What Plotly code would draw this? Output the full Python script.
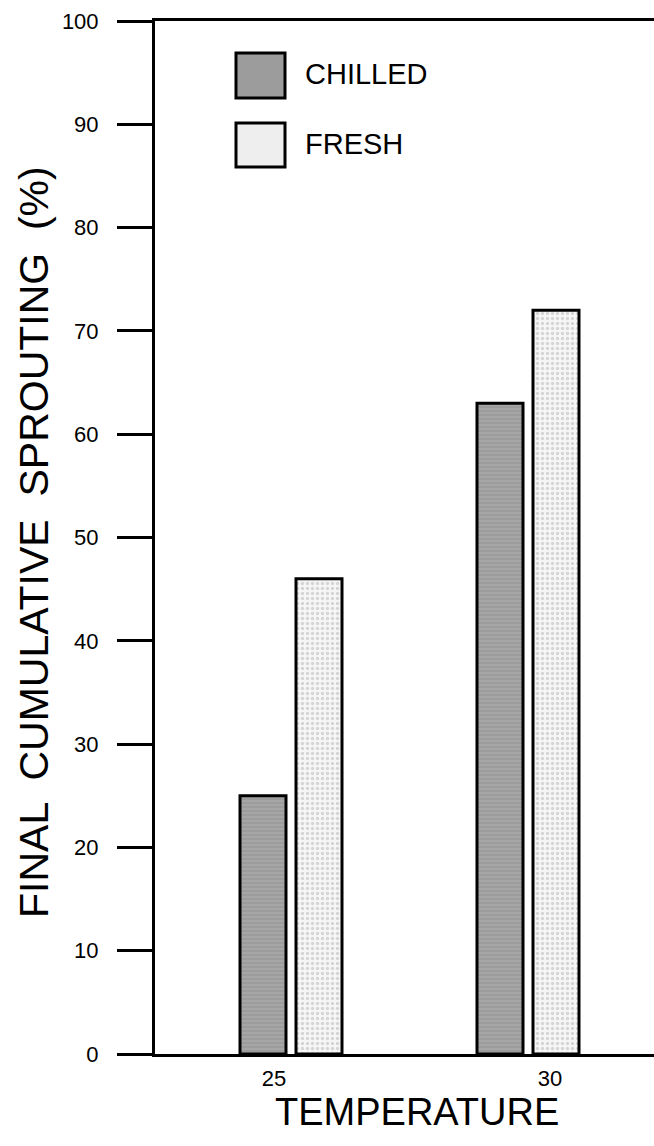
import plotly.graph_objects as go

# Final cumulative sprouting (%) by temperature and tuber treatment
temperatures = ["25", "30"]
series_names = ["CHILLED", "FRESH"]
chilled = [25, 63]
fresh = [46, 72]

FONT = "Liberation Sans, Arial, Helvetica, sans-serif"

W, H = 654, 1146
M_L, M_R, M_T, M_B = 155, 0, 21, 92
plot_w = W - M_L - M_R
plot_h = H - M_T - M_B

# pixel spacing between the two temperature groups, bar width and inner gap
unit = 237
bar_px = 46
inner_gap_px = 10

styles = {
    "CHILLED": dict(bg="#a6a6a6", fg="#8a8a8a", shape="-", size=4, solidity=0.35),
    "FRESH": dict(bg="#f6f6f6", fg="#b4b4b4", shape=".", size=5, solidity=0.35),
}
offsets = {
    "CHILLED": -(bar_px + inner_gap_px / 2) / unit,
    "FRESH": (inner_gap_px / 2) / unit,
}

positions = list(range(len(temperatures)))

fig = go.Figure()
for name, values in zip(series_names, [chilled, fresh]):
    st = styles[name]
    fig.add_trace(go.Bar(
        x=positions,
        y=values,
        name=name,
        width=bar_px / unit,
        offset=offsets[name],
        marker=dict(
            color=st["bg"],
            line=dict(color="black", width=3),
            pattern=dict(shape=st["shape"], fgcolor=st["fg"], bgcolor=st["bg"],
                         size=st["size"], solidity=st["solidity"], fillmode="overlay"),
        ),
        showlegend=False,
    ))

# Legend drawn as large swatches with labels
legend_fill = {"CHILLED": "#9c9c9c", "FRESH": "#eeeeee"}
swatch_x0, swatch_x1 = 236, 285
swatch_rows = [(53, 98), (123, 167)]


def px_x(px):
    return (px - M_L) / plot_w


def px_y(py):
    return 1 - (py - M_T) / plot_h


shapes = []
annotations = []
for name, (y0, y1) in zip(series_names, swatch_rows):
    shapes.append(dict(type="rect", xref="paper", yref="paper",
                       x0=px_x(swatch_x0), x1=px_x(swatch_x1),
                       y0=px_y(y1), y1=px_y(y0),
                       fillcolor=legend_fill[name], line=dict(color="black", width=3)))
    annotations.append(dict(text=name, xref="paper", yref="paper",
                            x=px_x(303), y=px_y((y0 + y1) / 2 - 1),
                            xanchor="left", yanchor="middle", showarrow=False,
                            font=dict(family=FONT, size=29, color="black")))

# Axis titles
annotations.append(dict(text="FINAL  CUMULATIVE  SPROUTING  (%)", xref="paper", yref="paper",
                        x=px_x(34), y=px_y(542), xanchor="center", yanchor="middle",
                        textangle=-90, showarrow=False,
                        font=dict(family=FONT, size=41, color="black")))
annotations.append(dict(text="TEMPERATURE", xref="paper", yref="paper",
                        x=px_x(417), y=px_y(1112), xanchor="center", yanchor="middle",
                        showarrow=False,
                        font=dict(family=FONT, size=38, color="black")))

# x range places the first group centre 136 px right of the y axis
x_lo = -(291 - M_L) / unit
x_hi = x_lo + plot_w / unit
label_shift = [-17 / unit, 22 / unit]

fig.update_layout(
    width=W, height=H,
    margin=dict(l=M_L, r=M_R, t=M_T, b=M_B, pad=0),
    paper_bgcolor="white", plot_bgcolor="white",
    barmode="overlay",
    font=dict(family=FONT, color="black"),
    shapes=shapes, annotations=annotations,
    xaxis=dict(
        range=[x_lo, x_hi],
        tickvals=[p + s for p, s in zip(positions, label_shift)],
        ticktext=temperatures,
        ticks="", ticklen=0, showgrid=False, zeroline=False,
        showline=True, linecolor="black", linewidth=3, mirror=True,
        tickfont=dict(family=FONT, size=22, color="black"),
        ticklabelstandoff=3,
    ),
    yaxis=dict(
        range=[0, 100], tickmode="linear", tick0=0, dtick=10,
        ticks="outside", ticklen=35, tickwidth=2.5, tickcolor="black",
        showgrid=False, zeroline=False,
        showline=True, linecolor="black", linewidth=3, mirror=False,
        tickfont=dict(family=FONT, size=22, color="black"),
        ticklabelstandoff=14,
    ),
)

fig.write_html("out.html")
